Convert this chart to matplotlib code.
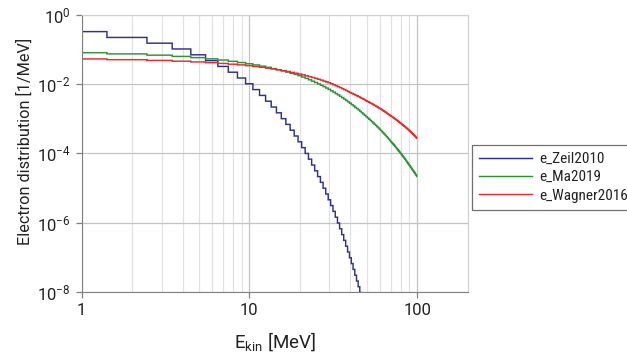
import numpy as np
import matplotlib
matplotlib.use("Agg")
import matplotlib.pyplot as plt
from matplotlib import font_manager
from matplotlib.ticker import NullLocator, LogLocator

plt.rcParams["font.family"] = ["Roboto", "DejaVu Sans"]
plt.rcParams["mathtext.default"] = "regular"

# bin centres [MeV], 1 MeV bins
energy = list(range(1, 101))

# e_Zeil2010 (falls below 1e-8 after ~46 MeV, rest not shown)
zeil2010 = [
    3.30e-1, 2.24e-1, 1.53e-1, 1.04e-1, 7.06e-2, 4.80e-2, 3.26e-2, 2.22e-2, 1.51e-2, 1.03e-2,
    6.98e-3, 4.74e-3, 3.23e-3, 2.19e-3, 1.49e-3, 1.01e-3, 6.90e-4, 4.69e-4, 3.19e-4, 2.17e-4,
    1.47e-4, 1.00e-4, 6.82e-5, 4.63e-5, 3.15e-5, 2.14e-5, 1.46e-5, 9.91e-6, 6.74e-6, 4.58e-6,
    3.12e-6, 2.12e-6, 1.44e-6, 9.80e-7, 6.66e-7, 4.53e-7, 3.08e-7, 2.09e-7, 1.42e-7, 9.70e-8,
    6.58e-8, 4.48e-8, 3.04e-8, 2.07e-8, 1.41e-8, 9.60e-9, 6.50e-9, 4.40e-9,
]

ma2019 = [
    8.13e-2, 7.50e-2, 6.90e-2, 6.35e-2, 5.86e-2, 5.40e-2, 4.98e-2, 4.58e-2, 4.22e-2, 3.89e-2,
    3.60e-2, 3.32e-2, 3.07e-2, 2.83e-2, 2.62e-2, 2.42e-2, 2.23e-2, 2.07e-2, 1.91e-2, 1.76e-2,
    1.61e-2, 1.47e-2, 1.34e-2, 1.22e-2, 1.12e-2, 1.02e-2, 9.31e-3, 8.49e-3, 7.76e-3, 7.08e-3,
    6.46e-3, 5.89e-3, 5.37e-3, 4.90e-3, 4.47e-3, 4.07e-3, 3.72e-3, 3.39e-3, 3.09e-3, 2.82e-3,
    2.58e-3, 2.36e-3, 2.15e-3, 1.97e-3, 1.80e-3, 1.64e-3, 1.50e-3, 1.37e-3, 1.26e-3, 1.15e-3,
    1.06e-3, 9.72e-4, 8.95e-4, 8.24e-4, 7.59e-4, 6.98e-4, 6.43e-4, 5.92e-4, 5.45e-4, 5.01e-4,
    4.61e-4, 4.25e-4, 3.91e-4, 3.60e-4, 3.31e-4, 3.05e-4, 2.81e-4, 2.58e-4, 2.38e-4, 2.19e-4,
    2.02e-4, 1.87e-4, 1.73e-4, 1.60e-4, 1.48e-4, 1.37e-4, 1.26e-4, 1.17e-4, 1.08e-4, 1.00e-4,
    9.25e-5, 8.55e-5, 7.91e-5, 7.31e-5, 6.76e-5, 6.25e-5, 5.78e-5, 5.35e-5, 4.94e-5, 4.57e-5,
    4.24e-5, 3.93e-5, 3.64e-5, 3.37e-5, 3.13e-5, 2.90e-5, 2.69e-5, 2.49e-5, 2.31e-5, 2.14e-5,
]

wagner2016 = [
    5.37e-2, 5.11e-2, 4.86e-2, 4.62e-2, 4.40e-2, 4.19e-2, 3.98e-2, 3.78e-2, 3.61e-2, 3.43e-2,
    3.24e-2, 3.07e-2, 2.90e-2, 2.75e-2, 2.60e-2, 2.46e-2, 2.33e-2, 2.20e-2, 2.08e-2, 1.97e-2,
    1.86e-2, 1.75e-2, 1.65e-2, 1.56e-2, 1.47e-2, 1.39e-2, 1.31e-2, 1.23e-2, 1.16e-2, 1.10e-2,
    1.03e-2, 9.64e-3, 9.04e-3, 8.47e-3, 7.94e-3, 7.45e-3, 6.98e-3, 6.55e-3, 6.14e-3, 5.75e-3,
    5.45e-3, 5.15e-3, 4.88e-3, 4.61e-3, 4.37e-3, 4.13e-3, 3.91e-3, 3.70e-3, 3.50e-3, 3.31e-3,
    3.15e-3, 2.99e-3, 2.84e-3, 2.70e-3, 2.57e-3, 2.44e-3, 2.32e-3, 2.21e-3, 2.10e-3, 2.00e-3,
    1.90e-3, 1.80e-3, 1.71e-3, 1.63e-3, 1.55e-3, 1.47e-3, 1.40e-3, 1.33e-3, 1.26e-3, 1.20e-3,
    1.15e-3, 1.09e-3, 1.04e-3, 9.91e-4, 9.44e-4, 8.99e-4, 8.57e-4, 8.17e-4, 7.78e-4, 7.41e-4,
    7.06e-4, 6.73e-4, 6.41e-4, 6.11e-4, 5.82e-4, 5.55e-4, 5.28e-4, 5.04e-4, 4.80e-4, 4.57e-4,
    4.34e-4, 4.12e-4, 3.91e-4, 3.72e-4, 3.53e-4, 3.35e-4, 3.18e-4, 3.02e-4, 2.87e-4, 2.72e-4,
]

series = [
    ("e_Zeil2010", zeil2010, "#303090"),
    ("e_Ma2019", ma2019, "#2f9236"),
    ("e_Wagner2016", wagner2016, "#e0302e"),
]


def log_edges(centres):
    # step edges at the geometric midpoints between bin centres
    c = np.asarray(centres, dtype=float)
    mid = np.sqrt(c[:-1] * c[1:])
    return np.concatenate([[c[0]], mid, [c[-1]]])


# legend text in the reference is narrow; use a condensed face if there is one
installed = {f.name for f in font_manager.fontManager.ttflist}
if "Roboto Condensed" in installed:
    leg_font = dict(family="Roboto Condensed", size=11)
    leg_opts = dict(handlelength=3.46, handletextpad=0.52, labelspacing=0.28, borderpad=0.46)
elif "Liberation Sans Narrow" in installed:
    leg_font = dict(family="Liberation Sans Narrow", size=11)
    leg_opts = dict(handlelength=3.5, handletextpad=0.5, labelspacing=0.3, borderpad=0.45)
else:
    leg_font = dict(family="Roboto", size=9)
    leg_opts = dict(handlelength=4.2, handletextpad=0.6, labelspacing=0.56, borderpad=0.65)

fig = plt.figure(figsize=(6.27, 3.56), dpi=100)
ax = fig.add_axes([0.1303, 0.180, 0.6155, 0.778])

for name, vals, col in series:
    x = energy[:len(vals)]
    st = ax.stairs(vals, log_edges(x), baseline=None, color=col, lw=1.05, label=name)
    st.set_snap(False)

ax.set_xscale("log")
ax.set_yscale("log")
ax.set_xlim(1, 200)
ax.set_ylim(1e-8, 1)

ax.set_xticks([1, 10, 100], labels=["1", "10", "100"])
ax.xaxis.set_minor_locator(LogLocator(base=10, subs=np.arange(2, 10)))
ax.set_yticks([1, 1e-2, 1e-4, 1e-6, 1e-8])
ax.yaxis.set_minor_locator(NullLocator())

ax.grid(True, which="major", color="#c4c4c4", lw=0.9)
ax.grid(True, which="minor", axis="x", color="#e2e2e2", lw=0.9)
ax.set_axisbelow(True)

for s in ["left", "bottom"]:
    ax.spines[s].set_color("#808080")
for s in ["top", "right"]:
    ax.spines[s].set_color("#d0d0d0")

ax.tick_params(which="major", length=4, width=0.9, color="#808080",
               labelsize=12, labelcolor="#222222", pad=4)
ax.tick_params(which="minor", length=0)

ax.set_xlabel(r"E$_{\mathregular{kin}}$ [MeV]", fontsize=13.5, color="#222222")
ax.set_ylabel("Electron distribution [1/MeV]", fontsize=11.7, color="#222222")
ax.yaxis.set_label_coords(-0.126, 0.543)
ax.xaxis.set_label_coords(0.5, -0.14)

leg = ax.legend(loc="upper left", bbox_to_anchor=(0.7523, 0.5927),
                bbox_transform=fig.transFigure, prop=leg_font, frameon=True,
                fancybox=False, framealpha=1, edgecolor="#707070",
                borderaxespad=0, **leg_opts)
leg.get_frame().set_linewidth(0.9)
for t in leg.get_texts():
    t.set_color("#222222")

fig.savefig("out.png", dpi=100)
